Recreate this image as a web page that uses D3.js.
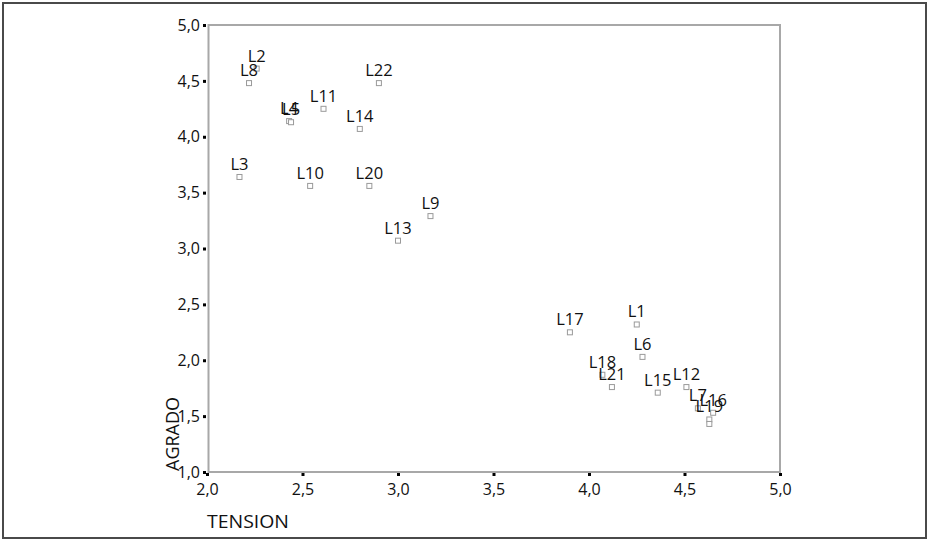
<!DOCTYPE html>
<html>
<head>
<meta charset="utf-8">
<script src="https://cdn.jsdelivr.net/npm/d3@7"></script>
<style>
  html, body { margin: 0; padding: 0; background: #fff; }
  svg { display: block; }
  text { font-family: "Open Sans", "Noto Sans", sans-serif; fill: #111; }
</style>
</head>
<body>
<svg id="chart" width="931" height="540"></svg>
<script>
// ---- data ----
const labels = ["L1","L2","L3","L4","L5","L6","L7","L8","L9","L10","L11",
                "L12","L13","L14","L15","L16","L17","L18","L19","L20","L21","L22"];
const tension = [4.25, 2.26, 2.17, 2.43, 2.44, 4.28, 4.57, 2.22, 3.17, 2.54, 2.61,
                 4.51, 3.00, 2.80, 4.36, 4.65, 3.90, 4.07, 4.63, 2.85, 4.12, 2.90];
const agrado  = [2.32, 4.61, 3.64, 4.14, 4.13, 2.03, 1.57, 4.48, 3.29, 3.56, 4.25,
                 1.76, 3.07, 4.07, 1.71, 1.53, 2.25, 1.87, 1.47, 3.56, 1.76, 4.48];
const extraPoint = { tension: 4.63, agrado: 1.43 };
const xTicks = [2.0, 2.5, 3.0, 3.5, 4.0, 4.5, 5.0];
const yTicks = [1.0, 1.5, 2.0, 2.5, 3.0, 3.5, 4.0, 4.5, 5.0];
const xTitle = "TENSION";
const yTitle = "AGRADO";

const points = labels.map((l, i) => ({ label: l, x: tension[i], y: agrado[i] }));

const svg = d3.select("#chart");

// outer border
svg.append("rect").attr("x", 3).attr("y", 3).attr("width", 923).attr("height", 535)
  .attr("fill", "none").attr("stroke", "#4a4a4a").attr("stroke-width", 2);

const x = d3.scaleLinear().domain([2, 5]).range([207, 780]);
const y = d3.scaleLinear().domain([1, 5]).range([472, 25]);

const fmt = d => d.toFixed(1).replace(".", ",");

// frame
svg.append("rect")
  .attr("x", x(2) + 1.5).attr("y", y(5))
  .attr("width", x(5) - x(2) - 1.5).attr("height", y(1) - y(5))
  .attr("fill", "none").attr("stroke", "#a8a8a8").attr("stroke-width", 2);

// axes
const gx = svg.append("g").attr("transform", `translate(0,${y(1) + 1})`)
  .call(d3.axisBottom(x).tickValues(xTicks).tickFormat(fmt).tickSize(3).tickPadding(8));
const gy = svg.append("g").attr("transform", `translate(${x(2) - 1},0)`)
  .call(d3.axisLeft(y).tickValues(yTicks).tickFormat(fmt).tickSize(3).tickPadding(3));

[gx, gy].forEach(g => {
  g.select(".domain").remove();
  g.selectAll(".tick line").attr("stroke", "#000").attr("stroke-width", 3);
  g.selectAll(".tick text").style("font-size", "16px").attr("fill", "#111");
});

// axis titles
svg.append("text").attr("x", 207).attr("y", 528).text(xTitle)
  .style("font-size", "18px").attr("textLength", 82).attr("lengthAdjust", "spacingAndGlyphs");
svg.append("text")
  .attr("transform", `translate(179,471) rotate(-90)`)
  .attr("text-anchor", "start").text(yTitle).style("font-size", "18px")
  .attr("textLength", 74).attr("lengthAdjust", "spacingAndGlyphs");

// markers
const all = points.concat([{ label: "", x: extraPoint.tension, y: extraPoint.agrado }]);
svg.append("g").selectAll("rect").data(all).join("rect")
  .attr("x", d => x(d.x) - 2.5).attr("y", d => y(d.y) - 2.5)
  .attr("width", 5).attr("height", 5)
  .attr("fill", "#fff").attr("stroke", "#9a9a9a").attr("stroke-width", 1);

// labels
svg.append("g").selectAll("text").data(points).join("text")
  .attr("x", d => x(d.x)).attr("y", d => y(d.y) - 7)
  .attr("text-anchor", "middle")
  .style("font-size", "16.5px")
  .text(d => d.label);
</script>
</body>
</html>
